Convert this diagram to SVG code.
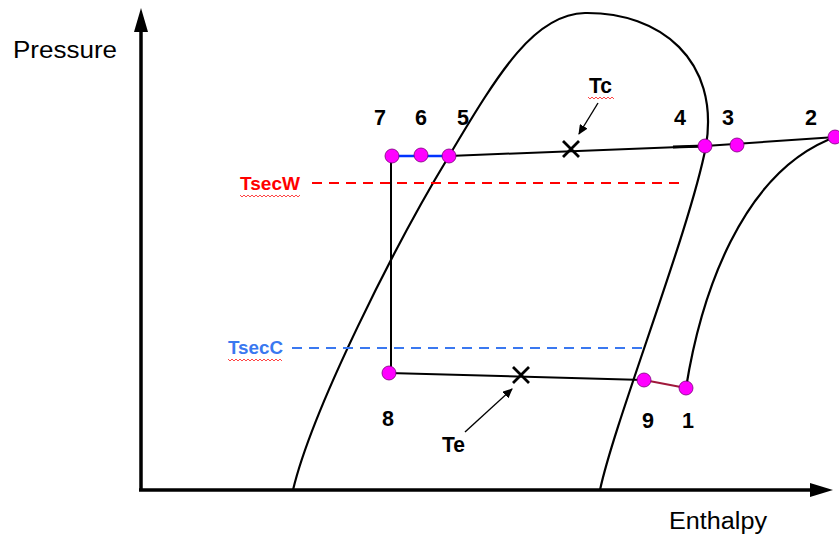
<svg xmlns="http://www.w3.org/2000/svg" width="839" height="538" viewBox="0 0 839 538">
<style>
.lbl{font-family:"Liberation Sans",Arial,sans-serif;font-weight:bold;font-size:22px;fill:#000}
.ax{font-family:"Liberation Sans",Arial,sans-serif;font-size:23px;fill:#000}
.curve{fill:none;stroke:#000;stroke-width:2.2}
.pt{fill:#ff00ff;stroke:#7a007a;stroke-width:0.8}
.sq{fill:none;stroke:#ff3030;stroke-width:0.9}
.xm{stroke:#000;stroke-width:2.8;fill:none}
</style>
<defs>
<marker id="arr" markerWidth="10" markerHeight="9" refX="9" refY="4.5" orient="auto" markerUnits="userSpaceOnUse"><path d="M0,0 L10,4.5 L0,9 z" fill="#000"/></marker>
</defs>
<rect width="839" height="538" fill="#fff"/>
<g id="axes">
<line x1="141" y1="491" x2="141" y2="30" stroke="#000" stroke-width="3.5"/>
<path d="M141,8 L134,32 L148,32 z" fill="#000"/>
<line x1="139" y1="490" x2="812" y2="490" stroke="#000" stroke-width="3.5"/>
<path d="M833,490 L810,483 L810,497 z" fill="#000"/>
<text class="ax" x="13" y="58" textLength="104" lengthAdjust="spacingAndGlyphs">Pressure</text>
<text class="ax" x="669" y="529" textLength="98" lengthAdjust="spacingAndGlyphs">Enthalpy</text>
</g>
<g id="dome">
<path class="curve" d="M293,490 C312,410 395,245 449,156 C500,70 535,14 585,13 C660,12 720,60 706,146 C690,230 615,420 600,490"/>
</g>
<g id="vapour-curve">
<path class="curve" d="M686,388 C700,300 740,170 838,136"/>
</g>
<g id="connectors">
<line x1="449" y1="156" x2="705" y2="146" stroke="#000" stroke-width="2"/>
<line x1="673" y1="147" x2="705" y2="146" stroke="#000" stroke-width="3"/>
<line x1="705" y1="146" x2="836" y2="137" stroke="#000" stroke-width="2"/>
<line x1="392" y1="156" x2="449" y2="156" stroke="#0033ff" stroke-width="2.5"/>
<line x1="391" y1="156" x2="391" y2="373" stroke="#000" stroke-width="2"/>
<line x1="389" y1="373" x2="644" y2="380" stroke="#000" stroke-width="2"/>
<line x1="644" y1="380" x2="686" y2="388" stroke="#a0183a" stroke-width="2"/>
<line x1="312" y1="183" x2="683" y2="183" stroke="#ff0000" stroke-width="2" stroke-dasharray="10,7"/>
<line x1="292" y1="348" x2="643" y2="348" stroke="#3a78f0" stroke-width="2" stroke-dasharray="10,7"/>
<path class="xm" d="M563,141 L579,157 M579,141 L563,157"/>
<path class="xm" d="M513,367 L529,383 M529,367 L513,383"/>
<line x1="598" y1="103" x2="579" y2="134" stroke="#000" stroke-width="1.4" marker-end="url(#arr)"/>
<line x1="465" y1="432" x2="512" y2="389" stroke="#000" stroke-width="1.4" marker-end="url(#arr)"/>
</g>
<g id="p7"><circle class="pt" cx="392" cy="156" r="7"/><text class="lbl" x="374" y="125" textLength="12" lengthAdjust="spacingAndGlyphs">7</text></g>
<g id="p6"><circle class="pt" cx="421" cy="155" r="7"/><text class="lbl" x="415" y="125" textLength="12" lengthAdjust="spacingAndGlyphs">6</text></g>
<g id="p5"><circle class="pt" cx="449" cy="156" r="7"/><text class="lbl" x="457" y="125" textLength="12" lengthAdjust="spacingAndGlyphs">5</text></g>
<g id="p4"><circle class="pt" cx="705" cy="146" r="7"/><text class="lbl" x="674" y="125" textLength="12" lengthAdjust="spacingAndGlyphs">4</text></g>
<g id="p3"><circle class="pt" cx="737" cy="145" r="7"/><text class="lbl" x="722" y="125" textLength="12" lengthAdjust="spacingAndGlyphs">3</text></g>
<g id="p2"><circle class="pt" cx="835" cy="137" r="7"/><text class="lbl" x="805" y="125" textLength="12" lengthAdjust="spacingAndGlyphs">2</text></g>
<g id="p8"><circle class="pt" cx="389" cy="373" r="7"/><text class="lbl" x="382" y="426" textLength="12" lengthAdjust="spacingAndGlyphs">8</text></g>
<g id="p9"><circle class="pt" cx="644" cy="380" r="7"/><text class="lbl" x="642" y="428" textLength="12" lengthAdjust="spacingAndGlyphs">9</text></g>
<g id="p1"><circle class="pt" cx="686" cy="388" r="7"/><text class="lbl" x="682" y="428" textLength="12" lengthAdjust="spacingAndGlyphs">1</text></g>
<g id="Tc"><text class="lbl" x="589" y="93" textLength="23" lengthAdjust="spacingAndGlyphs">Tc</text><path class="sq" d="M588,97 l2,2 l2,-2 l2,2 l2,-2 l2,2 l2,-2 l2,2 l2,-2 l2,2 l2,-2 l2,2 l2,-2 l2,2"/></g>
<g id="Te"><text class="lbl" x="442" y="452" textLength="23" lengthAdjust="spacingAndGlyphs">Te</text></g>
<g id="TsecW"><text class="lbl" x="240" y="190" textLength="60" lengthAdjust="spacingAndGlyphs" style="fill:#ff0000;font-size:18px">TsecW</text><path class="sq" d="M240,195 l2,2 l2,-2 l2,2 l2,-2 l2,2 l2,-2 l2,2 l2,-2 l2,2 l2,-2 l2,2 l2,-2 l2,2 l2,-2 l2,2 l2,-2 l2,2 l2,-2 l2,2 l2,-2 l2,2 l2,-2 l2,2 l2,-2 l2,2 l2,-2 l2,2 l2,-2 l2,2 l2,-2"/></g>
<g id="TsecC"><text class="lbl" x="228" y="354" textLength="55" lengthAdjust="spacingAndGlyphs" style="fill:#3a78f0;font-size:18px">TsecC</text><path class="sq" d="M228,359 l2,2 l2,-2 l2,2 l2,-2 l2,2 l2,-2 l2,2 l2,-2 l2,2 l2,-2 l2,2 l2,-2 l2,2 l2,-2 l2,2 l2,-2 l2,2 l2,-2 l2,2 l2,-2 l2,2 l2,-2 l2,2 l2,-2 l2,2 l2,-2 l2,2"/></g>
</svg>
